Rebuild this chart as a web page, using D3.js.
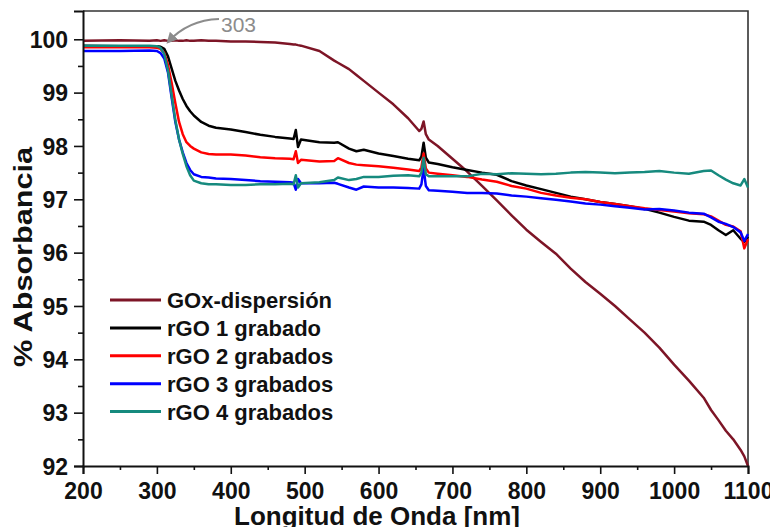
<!DOCTYPE html>
<html>
<head>
<meta charset="utf-8">
<script src="https://cdn.jsdelivr.net/npm/d3@7"></script>
<style>
  html, body { margin: 0; padding: 0; background: #fff; }
  svg { display: block; }
  text { font-family: "Liberation Sans", Arial, sans-serif; }
</style>
</head>
<body>
<svg id="chart" width="770" height="527"></svg>
<script>
// Wavelength grid (nm) shared by all spectra
const wavelength = [200, 250, 290, 300, 305, 310, 315, 320, 325, 330, 335, 340, 345, 350, 360, 370, 380, 400, 420, 440, 460, 480, 485, 488, 491, 495, 520, 540, 545, 560, 570, 580, 600, 620, 640, 655, 658, 661, 664, 668, 680, 700, 720, 740, 760, 780, 800, 820, 840, 860, 880, 900, 920, 940, 960, 980, 1000, 1020, 1040, 1050, 1060, 1070, 1080, 1090, 1095, 1100];

// % Absorbancia for each sample
const goxDispersion = [99.97, 99.98, 99.97, 99.98, 99.97, 99.98, 99.97, 99.97, 99.98, 99.97, 99.97, 99.98, 99.97, 99.97, 99.98, 99.97, 99.97, 99.96, 99.96, 99.95, 99.94, 99.91, 99.90, 99.90, 99.89, 99.88, 99.78, 99.60, 99.56, 99.44, 99.33, 99.22, 99.00, 98.78, 98.52, 98.28, 98.32, 98.46, 98.22, 98.12, 98.00, 97.76, 97.52, 97.25, 96.98, 96.70, 96.43, 96.20, 95.98, 95.70, 95.45, 95.23, 95.00, 94.75, 94.50, 94.22, 93.90, 93.60, 93.28, 93.05, 92.86, 92.66, 92.50, 92.30, 92.18, 92.00];
const rgo1 = [99.88, 99.87, 99.87, 99.87, 99.86, 99.82, 99.68, 99.45, 99.22, 99.04, 98.88, 98.75, 98.65, 98.57, 98.45, 98.38, 98.34, 98.31, 98.26, 98.21, 98.17, 98.14, 98.13, 98.30, 97.98, 98.12, 98.07, 98.06, 98.07, 97.95, 97.90, 97.93, 97.86, 97.81, 97.76, 97.73, 97.80, 98.06, 97.78, 97.69, 97.66, 97.60, 97.55, 97.50, 97.46, 97.34, 97.26, 97.19, 97.12, 97.05, 97.00, 96.95, 96.91, 96.87, 96.82, 96.75, 96.67, 96.60, 96.58, 96.52, 96.42, 96.33, 96.42, 96.26, 96.20, 96.30];
const rgo2 = [99.85, 99.85, 99.85, 99.84, 99.82, 99.74, 99.52, 99.18, 98.80, 98.45, 98.22, 98.07, 98.00, 97.95, 97.88, 97.85, 97.84, 97.84, 97.82, 97.79, 97.77, 97.76, 97.75, 97.90, 97.68, 97.74, 97.71, 97.72, 97.77, 97.68, 97.65, 97.64, 97.62, 97.59, 97.56, 97.53, 97.60, 97.86, 97.58, 97.50, 97.48, 97.45, 97.42, 97.37, 97.33, 97.25, 97.20, 97.12, 97.07, 97.03, 97.00, 96.95, 96.91, 96.87, 96.83, 96.80, 96.77, 96.74, 96.72, 96.68, 96.60, 96.52, 96.49, 96.40, 96.08, 96.25];
const rgo3 = [99.78, 99.78, 99.79, 99.78, 99.74, 99.64, 99.38, 98.90, 98.45, 98.12, 97.88, 97.68, 97.55, 97.47, 97.42, 97.41, 97.39, 97.38, 97.36, 97.34, 97.33, 97.32, 97.31, 97.18, 97.38, 97.30, 97.30, 97.31, 97.29, 97.22, 97.18, 97.24, 97.22, 97.22, 97.21, 97.20, 97.28, 97.58, 97.25, 97.17, 97.16, 97.14, 97.12, 97.12, 97.11, 97.07, 97.05, 97.02, 96.99, 96.96, 96.92, 96.90, 96.87, 96.84, 96.81, 96.82, 96.79, 96.75, 96.73, 96.66, 96.58, 96.54, 96.48, 96.38, 96.22, 96.35];
const rgo4 = [99.88, 99.88, 99.88, 99.87, 99.84, 99.72, 99.42, 98.95, 98.48, 98.12, 97.85, 97.62, 97.45, 97.35, 97.30, 97.28, 97.28, 97.27, 97.27, 97.28, 97.28, 97.29, 97.28, 97.45, 97.22, 97.30, 97.32, 97.36, 97.41, 97.36, 97.38, 97.42, 97.42, 97.44, 97.45, 97.43, 97.50, 97.78, 97.47, 97.43, 97.43, 97.43, 97.43, 97.48, 97.47, 97.49, 97.48, 97.47, 97.48, 97.50, 97.51, 97.50, 97.49, 97.50, 97.51, 97.53, 97.50, 97.48, 97.53, 97.54, 97.45, 97.37, 97.30, 97.26, 97.38, 97.22];

const seriesNames = ["GOx-dispersión", "rGO 1 grabado", "rGO 2 grabados", "rGO 3 grabados", "rGO 4 grabados"];
const seriesColors = ["#7d1526", "#000000", "#ff0000", "#0000ff", "#168a7e"];
const seriesValues = [goxDispersion, rgo1, rgo2, rgo3, rgo4];

const xTicks = [200, 300, 400, 500, 600, 700, 800, 900, 1000, 1100];
const yTicks = [92, 93, 94, 95, 96, 97, 98, 99, 100];

const svg = d3.select("#chart");
const plotLeft = 83, plotRight = 748, plotTop = 11, plotBottom = 466;

const x = d3.scaleLinear().domain([200, 1100]).range([plotLeft, plotRight]);
const y = d3.scaleLinear().domain([92, 100.53]).range([plotBottom, plotTop]);

// frame (top and right edges)
svg.append("path")
  .attr("d", `M${plotLeft},${plotTop}H${plotRight}V${plotBottom}`)
  .attr("fill", "none").attr("stroke", "#333").attr("stroke-width", 1.6);

// curves
const line = d3.line().x(d => x(d[0])).y(d => y(d[1]));
const plot = svg.append("g");
seriesValues.forEach((vals, i) => {
  const pts = wavelength.map((w, k) => [w, vals[k]]);
  plot.append("path")
    .datum(pts)
    .attr("d", line)
    .attr("fill", "none")
    .attr("stroke", seriesColors[i])
    .attr("stroke-width", 2.5)
    .attr("stroke-linejoin", "round");
});

// axes
const minorX = d3.range(250, 1100, 100);
const minorY = d3.range(92.5, 100.5, 1);

svg.append("g").attr("transform", `translate(0,${plotBottom})`)
  .call(d3.axisBottom(x).tickValues(xTicks).tickSize(8).tickPadding(9).tickFormat(d3.format("d")));
svg.append("g").attr("transform", `translate(0,${plotBottom})`)
  .call(d3.axisBottom(x).tickValues(minorX).tickSize(4).tickFormat(""))
  .call(g => g.select(".domain").remove());

const yAxis = svg.append("g").attr("transform", `translate(${plotLeft},0)`)
  .call(d3.axisLeft(y).tickValues(yTicks).tickSize(9).tickPadding(6).tickFormat(d3.format("d")));
svg.append("g").attr("transform", `translate(${plotLeft},0)`)
  .call(d3.axisLeft(y).tickValues(minorY).tickSize(5).tickFormat(""))
  .call(g => g.select(".domain").remove());

svg.selectAll(".domain").attr("stroke", "#111").attr("stroke-width", 2);
svg.selectAll(".tick line").attr("stroke", "#111").attr("stroke-width", 1.6);
svg.selectAll(".tick text")
  .attr("font-family", "Liberation Sans, Arial, sans-serif")
  .attr("font-size", 23).attr("font-weight", "bold").attr("fill", "#111");
yAxis.selectAll(".tick text").attr("dy", "0.36em");

// axis titles
svg.append("text")
  .attr("x", 377).attr("y", 525)
  .attr("text-anchor", "middle")
  .attr("font-size", 26).attr("font-weight", "bold").attr("fill", "#111")
  .text("Longitud de Onda [nm]");

svg.append("text")
  .attr("transform", "translate(32,257) rotate(-90)")
  .attr("text-anchor", "middle")
  .attr("font-size", 26).attr("font-weight", "bold").attr("fill", "#111")
  .attr("textLength", 220).attr("lengthAdjust", "spacingAndGlyphs")
  .text("% Absorbancia");

// legend
const legend = svg.append("g");
seriesNames.forEach((name, i) => {
  const ly = 300 + i * 27.9;
  legend.append("line")
    .attr("x1", 110).attr("x2", 161).attr("y1", ly).attr("y2", ly)
    .attr("stroke", seriesColors[i]).attr("stroke-width", 3);
  legend.append("text")
    .attr("x", 167).attr("y", ly).attr("dy", "0.36em")
    .attr("font-size", 22).attr("font-weight", "bold").attr("fill", "#111")
    .text(name);
});

// annotation: onset wavelength
const ann = svg.append("g");
ann.append("defs").append("marker")
  .attr("id", "arrowhead").attr("viewBox", "0 0 10 10")
  .attr("refX", 8).attr("refY", 5)
  .attr("markerWidth", 5).attr("markerHeight", 5)
  .attr("orient", "auto")
  .append("path").attr("d", "M0,0L10,5L0,10Z").attr("fill", "#8c8c8c");
ann.append("path")
  .attr("d", "M219,19 Q188,20 168,42")
  .attr("fill", "none").attr("stroke", "#8c8c8c").attr("stroke-width", 2.2)
  .attr("marker-end", "url(#arrowhead)");
ann.append("text")
  .attr("x", 221).attr("y", 32)
  .attr("font-size", 21).attr("fill", "#8c8c8c")
  .text("303");
</script>
</body>
</html>
